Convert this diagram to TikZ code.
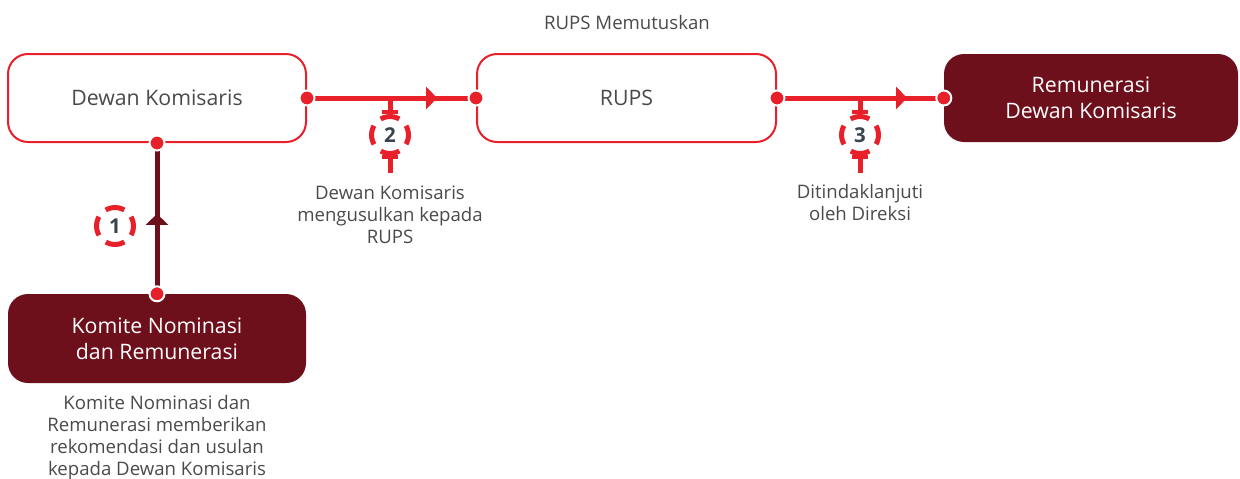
\documentclass[tikz,border=0pt]{standalone}
\usepackage{fontspec}
\setmainfont{Open Sans}
\usetikzlibrary{positioning, arrows.meta, decorations.markings}
\definecolor{flowred}{HTML}{E8202A}
\definecolor{boxmaroon}{HTML}{6E0F1C}
\definecolor{textgray}{HTML}{4A4A4A}
\definecolor{numgray}{HTML}{3A4450}

\tikzset{
  outlinebox/.style={draw=flowred, line width=2pt, fill=white, rounded corners=20pt,
    minimum width=298pt, minimum height=88pt, align=center, text=textgray,
    font=\fontsize{21.3}{26}\selectfont},
  filledbox/.style={fill=boxmaroon, rounded corners=20pt, minimum width=298pt,
    minimum height=88pt, align=center, text=white, font=\fontsize{21.3}{26}\selectfont},
  flow/.style={draw=flowred, line width=5pt},
  midarrow/.style={postaction={decorate, decoration={markings,
    mark=at position #1 with {\arrow{Triangle[length=11pt, width=22pt]}}}}},
  enddot/.style={circle, fill=flowred, draw=white, line width=2pt, inner sep=0pt,
    minimum size=15pt},
  stepmark/.style={circle, draw=flowred, line width=5pt, minimum size=37pt, inner sep=0pt,
    dash pattern=on 19.4pt off 9.65pt, dash phase=9.7pt, text=numgray,
    font=\fontsize{20.5}{24}\selectfont\bfseries},
  caption/.style={align=center, text=textgray, font=\fontsize{18.6}{22}\selectfont},
}

\begin{document}
\begin{tikzpicture}[x=1pt, y=-1pt]
    \useasboundingbox (0,0) rectangle (1240,479);

    % boxes
    \node[outlinebox] (dk) at (157,98) {Dewan Komisaris};
    \node[outlinebox, minimum width=299pt] (rups) at (626.5,98) {RUPS};
    \node[filledbox, minimum width=294pt] (remun) at (1091,98) {Remunerasi\\Dewan Komisaris};
    \node[filledbox, minimum height=89pt] (knr) at (157,338.5) {Komite Nominasi\\dan Remunerasi};

    \node[caption] (decide) at (627,23) {RUPS Memutuskan};

    % connectors
    \draw[flow, draw=boxmaroon, midarrow=0.53, boxmaroon] (knr.north) -- (dk.south);
    \draw[flow, midarrow=0.77, flowred] (dk.east) -- (rups.west);
    \draw[flow, midarrow=0.78, flowred] (rups.east) -- (remun.west);

    \foreach \a in {dk.east, rups.west, rups.east, remun.west, dk.south, knr.north}
        \node[enddot] at (\a) {};

    % step 1
    \node[stepmark] (s1) at (115,226) {1};

    % step 2 and 3
    \foreach \x/\n/\s in {390/2/s2, 860/3/s3} {
        \coordinate (\s top) at (\x,98);
        \node[stepmark] (\s) at (\x,135) {\n};
        \draw[flowred, line width=5pt] (\s top) -- (\x,112);
        \draw[flowred, line width=4pt] (\x-8,112) -- (\x+8,112);
        \draw[flowred, line width=4pt] (\x-8,157) -- (\x+8,157);
        \draw[flowred, line width=5pt] (\x,157) -- (\x,173);
    }

    % captions
    \node[caption] (cap2) at (390,214.5) {Dewan Komisaris\\mengusulkan kepada\\RUPS};
    \node[caption] (cap3) at (860,203) {Ditindaklanjuti\\oleh Direksi};
    \node[caption] (cap1) at (157,438) {Komite Nominasi dan\\Remunerasi memberikan\\rekomendasi dan usulan\\kepada Dewan Komisaris};
\end{tikzpicture}
\end{document}
